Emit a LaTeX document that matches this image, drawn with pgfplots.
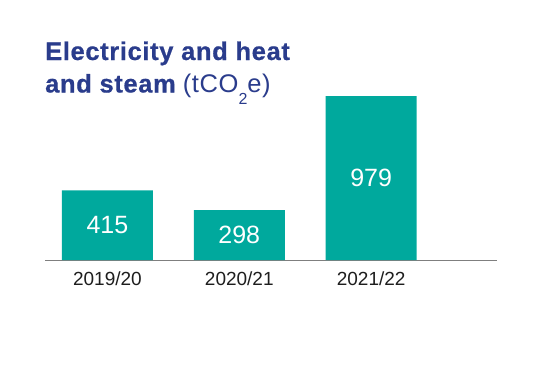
\documentclass[border=0pt]{standalone}
\usepackage{pgfplots}
\pgfplotsset{compat=1.18}
\usepackage{fontspec}
\setmainfont{Liberation Sans}
\newfontfamily\titlefont[LetterSpace=2.5]{Liberation Sans}
\newfontfamily\titlebold[LetterSpace=2.5, FakeBold=0.6]{Liberation Sans Bold}
\definecolor{barteal}{HTML}{00A99D}
\definecolor{titleblue}{HTML}{2A3C8C}
\definecolor{axisgray}{HTML}{7F7F7F}
\definecolor{labelcol}{HTML}{1E1E1E}
\begin{document}
\begin{tikzpicture}
\fill[white] (0,0) rectangle (540pt,376pt);
\useasboundingbox (0,0) rectangle (540pt,376pt);
\node[anchor=base west, inner sep=0pt, text=titleblue] at (45pt,316pt)
  {\titlebold\fontsize{25.5}{25.5}\selectfont Electricity and heat};
\node[anchor=base west, inner sep=0pt, text=titleblue] at (45pt,283.5pt)
  {\fontsize{25.5}{25.5}\selectfont{\titlebold and steam}\hspace{7pt}{\titlefont(tCO\raisebox{-12pt}{\fontsize{16}{16}\selectfont 2}e)}};
\begin{axis}[
  at={(45pt,116pt)}, anchor=south west,
  scale only axis, width=452pt, height=167.5pt,
  xmin=-0.4735, xmax=2.9545, ymin=0, ymax=1000,
  axis y line=none, axis x line*=bottom,
  x axis line style={color=axisgray, line width=0.9pt},
  xtick={0,1,2}, xticklabels={2019/20,2020/21,2021/22},
  major tick length=0pt, xtick style={draw=none},
  xticklabel style={anchor=base, yshift=-25pt, font=\fontsize{19}{19}\selectfont, text=labelcol},
  ybar, bar width=91pt,
  nodes near coords,
  visualization depends on={y \as \rawy},
  every node near coord/.append style={anchor=center, yshift=-0.08375*\rawy, font=\fontsize{25}{25}\selectfont, text=white},
  /pgf/number format/assume math mode=true,
  clip=false,
]
\addplot[fill=barteal, draw=none] coordinates {(0,415) (1,298) (2,979)};
\end{axis}
\end{tikzpicture}
\end{document}
